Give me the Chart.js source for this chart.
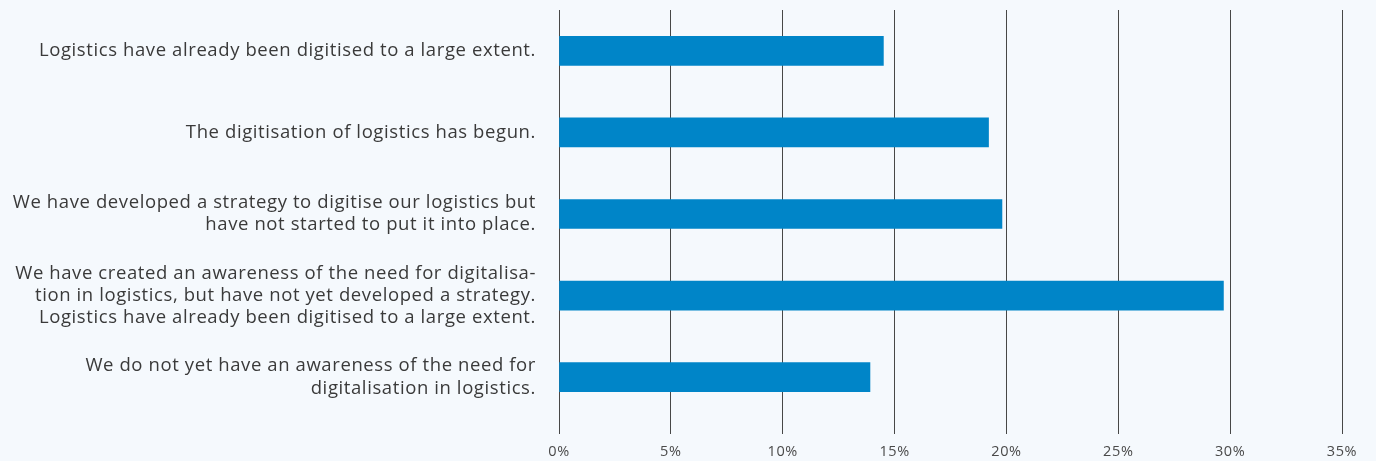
<!DOCTYPE html>
<html>
<head>
<meta charset="utf-8">
<script src="https://cdn.jsdelivr.net/npm/chart.js@4.4.1/dist/chart.umd.min.js"></script>
<style>
  html, body { margin: 0; padding: 0; background: #f5f9fd; }
  #wrap { width: 1376px; height: 461px; position: relative; }
</style>
</head>
<body>
<div id="wrap"><canvas id="chart"></canvas></div>
<script>
// Survey statements (multi-line labels) and share of respondents in percent
const categories = [
  ["Logistics have already been digitised to a large extent."],
  ["The digitisation of logistics has begun."],
  ["We have developed a strategy to digitise our logistics but", "have not started to put it into place."],
  ["We have created an awareness of the need for digitalisa-", "tion in logistics, but have not yet developed a strategy.", "Logistics have already been digitised to a large extent."],
  ["We do not yet have an awareness of the need for", "digitalisation in logistics."]
];
const shares = [14.5, 19.2, 19.8, 29.7, 13.9];
const tickValues = [0, 5, 10, 15, 20, 25, 30, 35];

const FONT = "'Open Sans', Lato, sans-serif";

// Slightly wider letter spacing for all canvas text
const spacingPlugin = {
  id: 'letterSpacing',
  beforeUpdate(chart) { chart.ctx.letterSpacing = '0.6px'; },
  beforeDraw(chart) { chart.ctx.letterSpacing = '0.6px'; }
};

new Chart(document.getElementById('chart'), {
  type: 'bar',
  data: {
    labels: categories,
    datasets: [{
      data: shares,
      backgroundColor: '#0085c8',
      borderWidth: 0,
      barThickness: 29
    }]
  },
  plugins: [spacingPlugin],
  options: {
    indexAxis: 'y',
    responsive: true,
    maintainAspectRatio: false,
    animation: false,
    layout: { padding: { top: 10, right: 34, left: 0, bottom: 0 } },
    plugins: { legend: { display: false }, tooltip: { enabled: false } },
    scales: {
      x: {
        position: 'bottom',
        min: 0,
        max: 35,
        afterBuildTicks: (axis) => { axis.ticks = tickValues.map(v => ({ value: v })); },
        afterFit: (axis) => { axis.height = 43; axis.paddingLeft = 0; axis.paddingRight = 0; },
        grid: { color: '#474747', lineWidth: 1, drawTicks: true, tickLength: 16, tickColor: '#474747' },
        border: { display: false },
        ticks: {
          padding: 9,
          color: '#4a4a4a',
          font: { family: FONT, size: 14.5 },
          callback: (v) => v + '%'
        }
      },
      y: {
        afterFit: (axis) => { axis.width = 559; axis.paddingTop = 0; axis.paddingBottom = 0; },
        grid: { display: false, drawTicks: false },
        border: { display: false },
        ticks: {
          padding: 23,
          color: '#3a3a3a',
          font: { family: FONT, size: 18.5, lineHeight: 1.2 },
          crossAlign: 'near'
        }
      }
    }
  }
});
</script>
</body>
</html>
